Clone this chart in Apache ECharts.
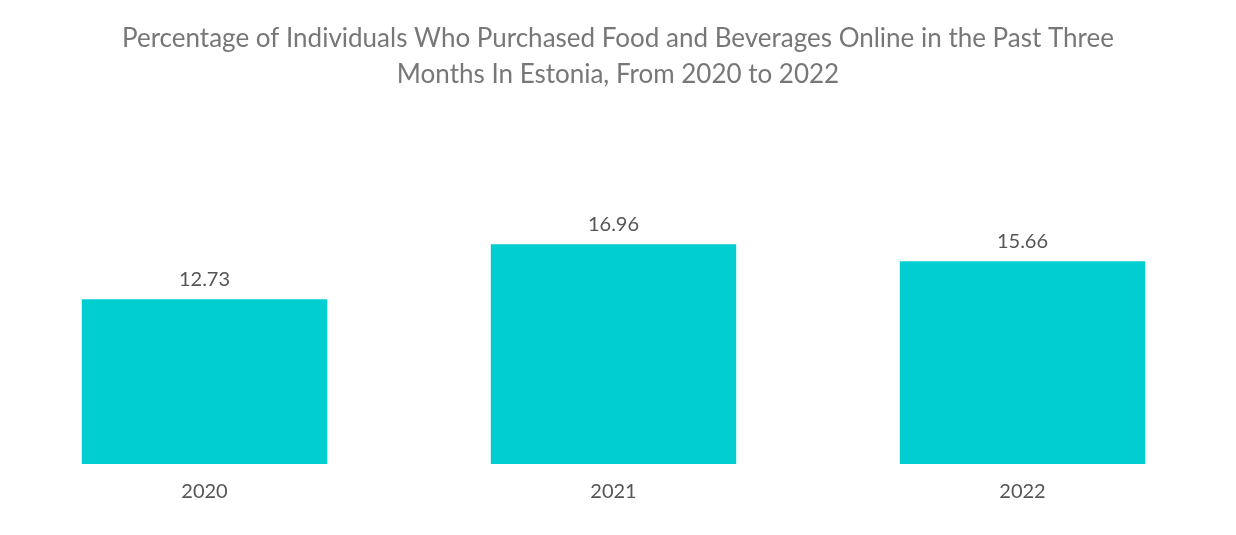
<!DOCTYPE html>
<html>
<head>
  <meta charset="UTF-8">
  <title>Online food purchases Estonia</title>
  <script src="https://cdn.jsdelivr.net/npm/echarts@6/dist/echarts.min.js"></script>
  <style>html,body{margin:0;padding:0;background:#fff}</style>
</head>
<body>
<div id="main" style="width:1236px;height:535px;"></div>
<script type="text/javascript">
  var years = ['2020', '2021', '2022'];
  var shares = [12.73, 16.96, 15.66];

  var myChart = echarts.init(document.getElementById('main'));
  myChart.setOption({
    animation: false,
    title: {
      text: 'Percentage of Individuals Who Purchased Food and Beverages Online in the Past Three\nMonths In Estonia, From 2020 to 2022',
      left: 613,
      textAlign: 'center',
      top: 16,
      textStyle: { fontFamily: 'Lato', fontWeight: 'normal', fontSize: 26, color: '#777', lineHeight: 36 }
    },
    grid: { left: 0, right: 9, top: 205, bottom: 71 },
    xAxis: {
      type: 'category',
      data: years,
      axisLine: { show: false },
      axisTick: { show: false },
      axisLabel: { fontFamily: 'Lato', fontSize: 20, color: '#555', margin: 18 }
    },
    yAxis: { type: 'value', min: 0, max: 20, show: false },
    series: [{
      type: 'bar',
      data: shares,
      barWidth: '60%',
      itemStyle: { color: '#00ced1' },
      label: { show: true, position: 'top', distance: 10, fontFamily: 'Lato', fontSize: 20, color: '#555' }
    }]
  });
</script>
</body>
</html>
